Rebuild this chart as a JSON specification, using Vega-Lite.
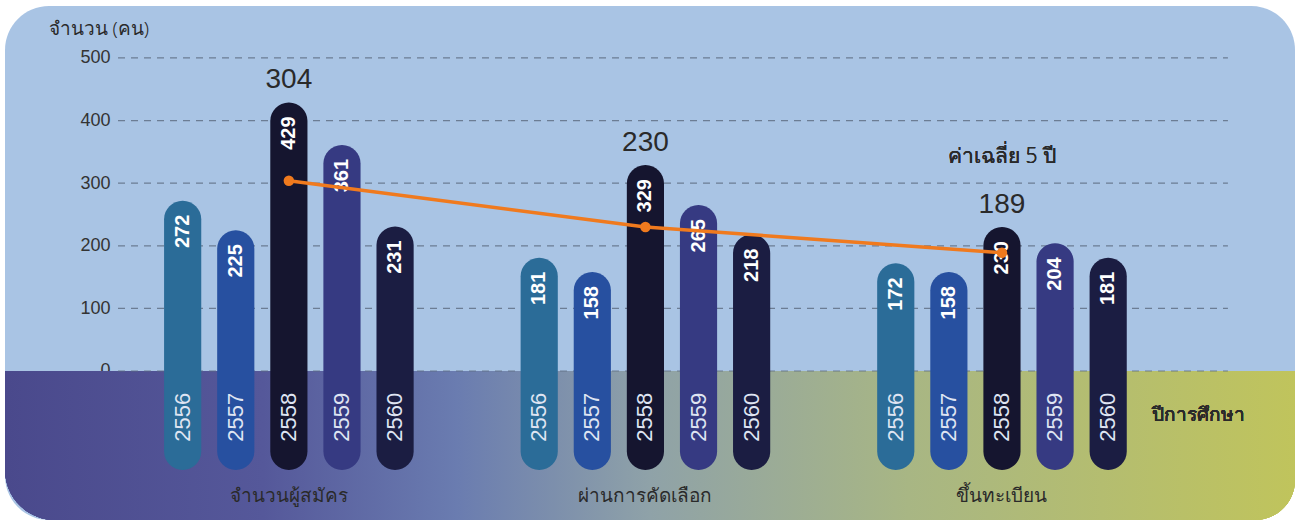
{
  "$schema": "https://vega.github.io/schema/vega-lite/v6.json",
  "width": 1290,
  "height": 514,
  "autosize": {"type": "none"},
  "padding": {"left": 5, "top": 6, "right": 2, "bottom": 2},
  "background": "#ffffff",
  "config": {
    "view": {"fill": "#a9c4e4", "stroke": null, "cornerRadius": 44},
    "font": "Liberation Sans"
  },
  "datasets": {
    "bars": [
      {"group": "จำนวนผู้สมัคร", "year": "2556", "value": 272},
      {"group": "จำนวนผู้สมัคร", "year": "2557", "value": 225},
      {"group": "จำนวนผู้สมัคร", "year": "2558", "value": 429},
      {"group": "จำนวนผู้สมัคร", "year": "2559", "value": 361},
      {"group": "จำนวนผู้สมัคร", "year": "2560", "value": 231},
      {"group": "ผ่านการคัดเลือก", "year": "2556", "value": 181},
      {"group": "ผ่านการคัดเลือก", "year": "2557", "value": 158},
      {"group": "ผ่านการคัดเลือก", "year": "2558", "value": 329},
      {"group": "ผ่านการคัดเลือก", "year": "2559", "value": 265},
      {"group": "ผ่านการคัดเลือก", "year": "2560", "value": 218},
      {"group": "ขึ้นทะเบียน", "year": "2556", "value": 172},
      {"group": "ขึ้นทะเบียน", "year": "2557", "value": 158},
      {"group": "ขึ้นทะเบียน", "year": "2558", "value": 230},
      {"group": "ขึ้นทะเบียน", "year": "2559", "value": 204},
      {"group": "ขึ้นทะเบียน", "year": "2560", "value": 181}
    ],
    "avg": [
      {"group": "จำนวนผู้สมัคร", "avg": 304},
      {"group": "ผ่านการคัดเลือก", "avg": 230},
      {"group": "ขึ้นทะเบียน", "avg": 189}
    ],
    "ticks": [{"v": 0}, {"v": 100}, {"v": 200}, {"v": 300}, {"v": 400}, {"v": 500}]
  },
  "resolve": {"scale": {"x": "independent"}},
  "layer": [
    {
      "data": {"name": "ticks"},
      "layer": [
        {
          "mark": {
            "type": "rect",
            "cornerRadiusBottomLeft": 50,
            "cornerRadiusBottomRight": 40,
            "color": {
              "gradient": "linear", "x1": 0, "x2": 1, "y1": 0, "y2": 0,
              "stops": [
                {"offset": 0, "color": "#4a498c"},
                {"offset": 0.2, "color": "#55589a"},
                {"offset": 0.35, "color": "#6a7cb0"},
                {"offset": 0.5, "color": "#8fa2a8"},
                {"offset": 0.7, "color": "#a8b684"},
                {"offset": 1, "color": "#c0c45c"}
              ]
            }
          },
          "encoding": {
            "x": {"datum": 0, "type": "quantitative", "scale": {"domain": [0, 100], "nice": false}, "axis": null},
            "x2": {"datum": 100},
            "y": {"datum": 0, "type": "quantitative"},
            "y2": {"datum": -238}
          }
        },
        {
          "mark": {"type": "rule", "color": "#5d6b80", "strokeWidth": 1.2, "strokeDash": [7, 6], "opacity": 0.8},
          "encoding": {
            "x": {"datum": 8.76, "type": "quantitative", "axis": null},
            "x2": {"datum": 94.8},
            "y": {
              "field": "v", "type": "quantitative",
              "scale": {"domain": [-238, 583], "nice": false, "zero": false},
              "axis": {
                "values": [0, 100, 200, 300, 400, 500],
                "grid": false, "domain": false, "ticks": false,
                "offset": -107, "labelPadding": 2,
                "labelFontSize": 18, "labelColor": "#333333",
                "title": "จำนวน (คน)", "titleAngle": 0, "titleAlign": "left",
                "titleBaseline": "middle", "titleX": -64, "titleY": 22,
                "titleFontSize": 19, "titleFontWeight": 300, "titleColor": "#2a2a2a",
                "titleFont": "Noto Sans"
              }
            }
          }
        },
        {
          "mark": {"type": "text", "text": "ปีการศึกษา", "fontSize": 19, "fontWeight": 300, "color": "#2a2a2a", "font": "Noto Sans"},
          "encoding": {
            "x": {"datum": 92.5, "type": "quantitative", "axis": null},
            "y": {"datum": -70, "type": "quantitative"}
          }
        }
      ]
    },
    {
      "layer": [
        {
          "data": {"name": "bars"},
          "mark": {"type": "bar", "cornerRadius": 18.5},
          "encoding": {
            "x": {
              "field": "group", "type": "nominal", "sort": null,
              "scale": {"paddingInner": 0.3, "paddingOuter": 0.459, "align": 0.486},
              "axis": null
            },
            "xOffset": {
              "field": "year", "type": "nominal",
              "scale": {"paddingInner": 0.3, "paddingOuter": 0}
            },
            "y": {"field": "value", "type": "quantitative"},
            "y2": {"datum": -158},
            "color": {
              "field": "year", "type": "nominal",
              "scale": {
                "domain": ["2556", "2557", "2558", "2559", "2560"],
                "range": ["#2b6c98", "#2750a0", "#15152f", "#363a82", "#1b1d42"]
              },
              "legend": null
            }
          }
        },
        {
          "data": {"name": "bars"},
          "mark": {"type": "text", "angle": 270, "align": "right", "baseline": "middle", "dx": -14, "fontSize": 20, "fontWeight": "bold", "color": "#ffffff"},
          "encoding": {
            "x": {"field": "group", "type": "nominal", "sort": null, "axis": null},
            "xOffset": {"field": "year", "type": "nominal"},
            "y": {"field": "value", "type": "quantitative"},
            "text": {"field": "value", "type": "quantitative"}
          }
        },
        {
          "data": {"name": "bars"},
          "mark": {"type": "text", "angle": 270, "align": "center", "baseline": "middle", "fontSize": 22, "color": "#dfe4f2"},
          "encoding": {
            "x": {"field": "group", "type": "nominal", "sort": null, "axis": null},
            "xOffset": {"field": "year", "type": "nominal"},
            "y": {"datum": -74, "type": "quantitative"},
            "text": {"field": "year", "type": "nominal"}
          }
        },
        {
          "data": {"name": "bars"},
          "transform": [
            {"filter": "datum.year == '2558'"},
            {"lookup": "group", "from": {"data": {"name": "avg"}, "key": "group", "fields": ["avg"]}}
          ],
          "mark": {"type": "text", "baseline": "alphabetic", "dy": -14, "fontSize": 28, "color": "#2a2a2a"},
          "encoding": {
            "x": {"field": "group", "type": "nominal", "sort": null, "axis": null},
            "xOffset": {"field": "year", "type": "nominal"},
            "y": {"field": "value", "type": "quantitative"},
            "text": {"field": "avg", "type": "quantitative"}
          }
        },
        {
          "data": {"name": "avg"},
          "mark": {"type": "line", "color": "#f07a1e", "strokeWidth": 3.5, "point": {"filled": true, "size": 110, "color": "#f07a1e"}},
          "encoding": {
            "x": {"field": "group", "type": "nominal", "sort": null, "axis": null},
            "xOffset": {"datum": "2558"},
            "y": {"field": "avg", "type": "quantitative"}
          }
        },
        {
          "data": {"name": "avg"},
          "mark": {"type": "text", "fontSize": 19, "fontWeight": 300, "color": "#2a2a2a", "font": "Noto Sans", "baseline": "middle"},
          "encoding": {
            "x": {"field": "group", "type": "nominal", "sort": null, "axis": null},
            "y": {"datum": -200, "type": "quantitative"},
            "text": {"field": "group", "type": "nominal"}
          }
        },
        {
          "data": {"name": "avg"},
          "mark": {"type": "text", "text": "ค่าเฉลี่ย 5 ปี", "fontSize": 21, "fontWeight": 300, "color": "#2a2a2a", "font": "Noto Sans", "baseline": "middle"},
          "encoding": {
            "x": {"datum": "ขึ้นทะเบียน", "type": "nominal", "axis": null},
            "xOffset": {"datum": "2558"},
            "y": {"datum": 342, "type": "quantitative"}
          }
        }
      ]
    }
  ]
}
